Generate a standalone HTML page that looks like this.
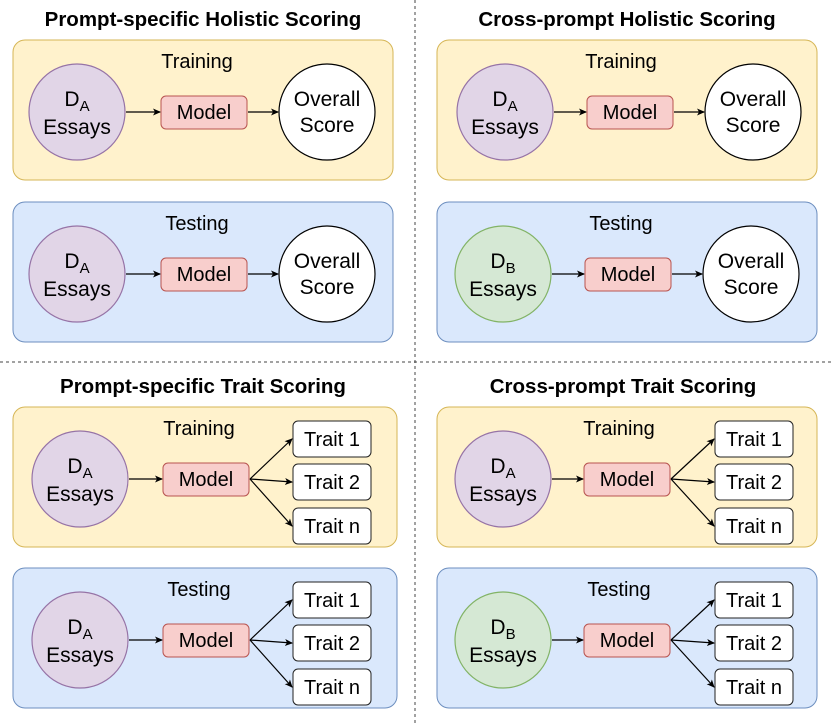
<!DOCTYPE html>
<html><head><meta charset="utf-8"><style>
html,body{margin:0;padding:0;background:#fff;}
svg{display:block;font-family:"Liberation Sans",Helvetica,Arial,sans-serif;}
</style></head><body>
<svg id="s" width="834" height="726" viewBox="0 0 834 726" xmlns="http://www.w3.org/2000/svg">
<defs><marker id="ah" markerWidth="8" markerHeight="8" refX="7" refY="4" orient="auto" markerUnits="userSpaceOnUse"><path d="M0,0.5 L8,4 L0,7.5 L2,4 Z" fill="#000"/></marker></defs>
<line x1="415" y1="0" x2="415" y2="726" stroke="#444" stroke-dasharray="3,3"/>
<line x1="0" y1="362" x2="834" y2="362" stroke="#444" stroke-dasharray="3,3"/>
</svg>
<script>
const NS='http://www.w3.org/2000/svg';
const svg=document.getElementById('s');
function mk(tag,attrs,parent){const e=document.createElementNS(NS,tag);for(const k in attrs)e.setAttribute(k,attrs[k]);(parent||svg).appendChild(e);return e;}
function txt(x,y,s,size,weight,name,parent){const t=mk('text',{x:x,y:y,'text-anchor':'middle','font-size':size,'font-weight':weight||'normal',fill:'#000'},parent);t.textContent=s;


return t;}
function essays(g,cx,cy,sub,fill,stroke){const c=mk('circle',{cx:cx,cy:cy,r:48,fill:fill,stroke:stroke,'stroke-width':1.2},g);


const t=mk('text',{x:cx,y:cy-6,'text-anchor':'middle','font-size':21},g);t.innerHTML='D<tspan font-size="15" dy="5">'+sub+'</tspan>';


txt(cx,cy+22,'Essays',21,'normal','essays-label',g);}
function model(g,x,y){const r=mk('rect',{x:x,y:y,width:86,height:33,rx:5,fill:'#f8cecc',stroke:'#b85450','stroke-width':1},g);


txt(x+43,y+23,'Model',20,'normal','model-label',g);}
function arrow(g,x1,y1,x2,y2){const l=mk('line',{x1:x1,y1:y1,x2:x2,y2:y2,stroke:'#000','stroke-width':1.2,'marker-end':'url(#ah)'},g);

}
function panel(x,y,w,label,kind,sub,ecol,layout){
const g=mk('g',{});


const yel=kind==='train';
const r=mk('rect',{x:x,y:y,width:w,height:140,rx:12,fill:yel?'#fff2cc':'#dae8fc',stroke:yel?'#d6b656':'#6c8ebf','stroke-width':1},g);


const ex=x+layout.ex, cy=y+72;
txt(x+layout.lx,y+28,label,20,'normal','panel-title',g);
essays(g,ex,cy,sub,ecol[0],ecol[1]);
const mx=x+layout.mx;
model(g,mx,cy-16);
arrow(g,ex+49,cy,mx-1,cy);
if(layout.trait){
 const tx=x+layout.tx; const ys=[cy-58,cy-15,cy+29]; const names=['Trait 1','Trait 2','Trait n'];
 ys.forEach((ty,i)=>{const b=mk('rect',{x:tx,y:ty,width:78,height:36,rx:5,fill:'#fff',stroke:'#222','stroke-width':1},g);
 
 
 txt(tx+39,ty+25,names[i],20,'normal','trait-label',g);
 arrow(g,mx+87,cy,tx-1,ty+18);});
}else{
 const ox=x+layout.ox;
 const c=mk('circle',{cx:ox,cy:cy,r:48,fill:'#fff',stroke:'#000','stroke-width':1.2},g);
 
 
 txt(ox,cy-6,'Overall',21,'normal','overall-label',g);
 txt(ox,cy+20,'Score',21,'normal','score-label',g);
 arrow(g,mx+87,cy,ox-49,cy);
}}
const P=['#e1d5e7','#9673a6'], G=['#d5e8d4','#82b366'];
txt(203,26,'Prompt-specific Holistic Scoring',20.5,'bold','title-prompt-holistic');
txt(627,26,'Cross-prompt Holistic Scoring',20.5,'bold','title-cross-holistic');
txt(203,393,'Prompt-specific Trait Scoring',20.5,'bold','title-prompt-trait');
txt(623,393,'Cross-prompt Trait Scoring',20.5,'bold','title-cross-trait');
const H={lx:184,ex:64,mx:148,ox:314};
panel(13,40,380,'Training','train','A',P,H);
panel(13,202,380,'Testing','test','A',P,H);
panel(437,40,380,'Training','train','A',P,{lx:184,ex:68,mx:150,ox:316});
panel(437,202,380,'Testing','test','B',G,{lx:184,ex:66,mx:148,ox:314});
const T={lx:186,ex:67,mx:150,trait:true,tx:280};
panel(13,407,384,'Training','train','A',P,T);
panel(13,568,384,'Testing','test','A',P,T);
const T2={lx:182,ex:66,mx:147,trait:true,tx:278};
panel(437,407,380,'Training','train','A',P,T2);
panel(437,568,380,'Testing','test','B',G,T2);
</script>
</body></html>
